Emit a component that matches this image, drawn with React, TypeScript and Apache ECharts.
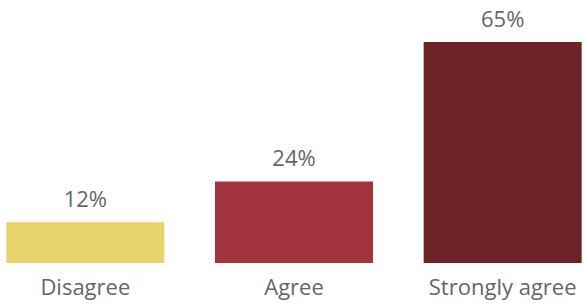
import React, { useEffect, useRef } from "react";
import * as echarts from "echarts";

const categories = ["Disagree", "Agree", "Strongly agree"];
const values = [12, 24, 65];
const colors = ["#E8D26B", "#A3343E", "#6B2328"];

export default function App() {
  const ref = useRef<HTMLDivElement>(null);
  useEffect(() => {
    if (!ref.current) return;
    const chart = echarts.init(ref.current, undefined, { renderer: "svg" });
    const font = "Open Sans, Noto Sans, sans-serif";
    chart.setOption({
      animation: false,
      grid: { left: 0, right: 0, top: 42, bottom: 41, containLabel: false },
      xAxis: {
        type: "category",
        data: categories,
        axisLine: { show: false },
        axisTick: { show: false },
        axisLabel: {
          fontSize: 22,
          color: "#666666",
          margin: 12,
          fontFamily: font,
          interval: 0,
        },
      },
      yAxis: {
        type: "value",
        min: 0,
        max: 65,
        show: false,
        splitLine: { show: false },
      },
      series: [
        {
          type: "bar",
          data: values.map((v, i) => ({ value: v, itemStyle: { color: colors[i] } })),
          barWidth: 158,
          label: {
            show: true,
            position: "top",
            distance: 13,
            fontSize: 22,
            color: "#666666",
            fontFamily: font,
            formatter: (p: any) => p.value + "%",
          },
        },
      ],
    });
    return () => chart.dispose();
  }, []);
  return (
    <div style={{ position: "absolute", left: 0, top: 0, width: 586, height: 304, overflow: "hidden" }}>
      <div ref={ref} style={{ position: "absolute", left: -19.5, top: 0, width: 626, height: 304 }} />
    </div>
  );
}
